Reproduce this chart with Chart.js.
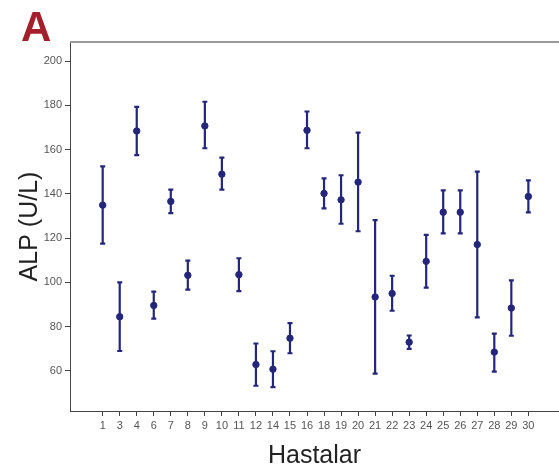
<!DOCTYPE html>
<html>
<head>
<meta charset="utf-8">
<script src="https://cdn.jsdelivr.net/npm/chart.js@4.4.1/dist/chart.umd.min.js"></script>
<style>
  body { margin: 0; background: #fff; }
  #wrap { position: relative; width: 559px; height: 475px; }
  #etiket { position: absolute; left: 21px; top: 3px; font: bold 42px "Liberation Sans", Arial, sans-serif; color: #a31f2b; }
</style>
</head>
<body>
<div id="wrap">
  <canvas id="grafik"></canvas>
  <div id="etiket">A</div>
</div>
<script>
// hasta numaralari
var hastalar = ['1','3','4','6','7','8','9','10','11','12','14','15','16','18','19','20','21','22','23','24','25','26','27','28','29','30'];
// ALP ortalama ve hata cubuklari (alt / ust)
var ortalama = [134.9, 84.5, 168.4, 89.6, 136.6, 103.2, 170.7, 148.9, 103.5, 62.9, 60.8, 74.8, 168.7, 140.2, 137.3, 145.3, 93.4, 95.0, 73.0, 109.5, 131.7, 131.7, 117.1, 68.5, 88.4, 138.8];
var alt = [117.5, 69.0, 157.5, 83.6, 131.3, 96.7, 160.6, 141.9, 96.1, 53.3, 52.7, 68.0, 160.6, 133.4, 126.5, 123.1, 58.8, 87.2, 70.0, 97.6, 122.1, 122.1, 84.2, 59.7, 75.9, 131.6];
var ust = [152.4, 100.0, 179.3, 95.8, 141.9, 109.8, 181.6, 156.4, 110.9, 72.4, 68.9, 81.6, 177.2, 147.0, 148.4, 167.7, 128.1, 103.0, 76.0, 121.5, 141.6, 141.6, 150.0, 76.9, 100.9, 146.1];
var y_ticks = [60, 80, 100, 120, 140, 160, 180, 200];

var renk = '#23267a';

var hataCubugu = {
    id: 'hataCubugu',
    afterDatasetsDraw: function(chart) {
        var ctx = chart.ctx;
        var xs = chart.scales.x, ys = chart.scales.y;
        ctx.save();
        ctx.strokeStyle = renk;
        ctx.lineWidth = 2.2;
        for (let i = 0; i < hastalar.length; i++) {
            let px = xs.getPixelForValue(i);
            let p1 = ys.getPixelForValue(alt[i]);
            let p2 = ys.getPixelForValue(ust[i]);
            ctx.beginPath();
            ctx.moveTo(px, p1); ctx.lineTo(px, p2);
            ctx.moveTo(px - 2.5, p1); ctx.lineTo(px + 2.5, p1);
            ctx.moveTo(px - 2.5, p2); ctx.lineTo(px + 2.5, p2);
            ctx.stroke();
        }
        // ust cerceve
        var a = chart.chartArea;
        ctx.strokeStyle = '#9a9a9a';
        ctx.lineWidth = 2;
        ctx.beginPath();
        ctx.moveTo(a.left, a.top); ctx.lineTo(a.right, a.top);
        ctx.stroke();
        ctx.restore();
    }
};

var noktalar = hastalar.map(function(h, i) { return {x: i, y: ortalama[i]}; });

new Chart(document.getElementById('grafik').getContext('2d'), {
    type: 'scatter',
    data: {
        datasets: [{
            data: noktalar,
            backgroundColor: renk,
            borderColor: renk,
            pointRadius: 3.2,
            pointHoverRadius: 3.2
        }]
    },
    options: {
        responsive: true,
        maintainAspectRatio: false,
        animation: false,
        layout: { autoPadding: false, padding: { top: 42, right: 0, left: 0, bottom: 0 } },
        plugins: { legend: { display: false }, tooltip: { enabled: false } },
        scales: {
            x: {
                type: 'linear',
                min: -1.92,
                max: 26.8,
                afterBuildTicks: function(s) { s.ticks = hastalar.map(function(h, i) { return {value: i}; }); },
                afterFit: function(s) { s.height = 64; },
                ticks: {
                    autoSkip: false,
                    maxRotation: 0,
                    padding: 3,
                    color: '#555',
                    font: { family: 'Liberation Sans', size: 11 },
                    callback: function(v) { return hastalar[v]; }
                },
                grid: { drawOnChartArea: false, tickLength: 5, color: '#444' },
                border: { color: '#444', width: 1 },
                title: {
                    display: true,
                    text: 'Hastalar',
                    color: '#222',
                    padding: { top: 0, bottom: 4 },
                    font: { family: 'Liberation Sans', size: 25 }
                }
            },
            y: {
                min: 41.9,
                max: 208.6,
                afterBuildTicks: function(s) { s.ticks = y_ticks.map(function(v) { return {value: v}; }); },
                afterFit: function(s) { s.width = 70; },
                ticks: {
                    padding: 3,
                    color: '#555',
                    font: { family: 'Liberation Sans', size: 11 }
                },
                grid: { drawOnChartArea: false, tickLength: 5, color: '#444' },
                border: { color: '#444', width: 1 },
                title: {
                    display: true,
                    text: 'ALP (U/L)',
                    color: '#222',
                    padding: { top: 15, bottom: 0 },
                    font: { family: 'Liberation Sans', size: 25 }
                }
            }
        }
    },
    plugins: [hataCubugu]
});
</script>
</body>
</html>
